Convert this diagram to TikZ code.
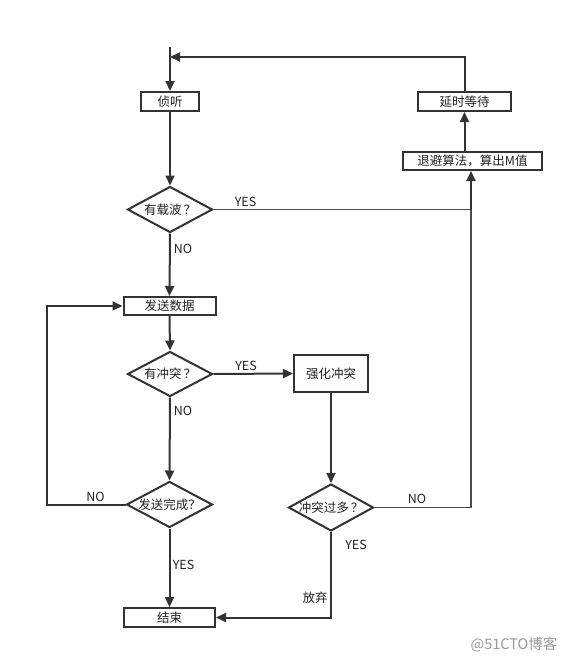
\documentclass[tikz,border=0pt]{standalone}
\usepackage{fontspec}
\setmainfont{Noto Sans CJK SC}
\usetikzlibrary{arrows.meta,shapes.geometric}
\definecolor{lc}{HTML}{333333}
\definecolor{lg}{HTML}{4D4D4D}
\definecolor{tc}{HTML}{222222}
\definecolor{wm}{HTML}{9A9A9A}
\tikzset{
  base/.style={draw=lc, line width=2pt, fill=white, font=\fontsize{12.5}{14}\selectfont, text=tc, inner sep=0pt},
  box/.style={base, rectangle},
  dia/.style={base, diamond, aspect=1.83},
  conn/.style={draw=lc, line width=2pt, -{Triangle[length=10pt,width=9pt]}},
  thin/.style={draw=lg, line width=1.5pt},
  lbl/.style={font=\fontsize{12.5}{14}\selectfont, text=tc, inner sep=0pt}
}
\newcommand{\qm}{\hspace{2pt}？}
\begin{document}
\begin{tikzpicture}[x=1pt,y=-1pt]
\fill[white] (0,0) rectangle (573,659);
\useasboundingbox (0,0) rectangle (573,659);

% nodes
\coordinate (start) at (170,47);
\node[box, minimum width=58pt, minimum height=19pt] (listen) at (170,101.5) {侦听};
\node[box, minimum width=93pt, minimum height=19pt] (delay) at (464.5,101.5) {延时等待};
\node[box, minimum width=139pt, minimum height=18pt] (backoff) at (472.5,161) {退避算法，算出M值};
\node[dia, minimum width=85pt, minimum height=46pt, label={[lbl]center:有载波\qm}] (carrier) at (170,209.5) {};
\node[box, minimum width=92pt, minimum height=18pt] (send) at (169.5,306) {发送数据};
\node[dia, minimum width=85pt, minimum height=45pt, label={[lbl]center:有冲突\qm}] (collide) at (170,374) {};
\node[box, minimum width=74pt, minimum height=37pt] (jam) at (331,373.5) {强化冲突};
\node[dia, minimum width=86pt, minimum height=46pt, label={[lbl]center:发送完成？}] (done) at (169.5,504.5) {};
\node[dia, minimum width=85pt, minimum height=47pt, label={[lbl]center:冲突过多\qm}] (many) at (331,507.5) {};
\node[box, minimum width=91pt, minimum height=19pt] (end) at (169.5,617.5) {结束};

% helper coordinates
\coordinate (topR) at (464.5,57);
\coordinate (topL) at (170,57);
\coordinate (joinY) at (471,209.5);
\coordinate (joinN) at (471,507.5);
\coordinate (loopB) at (47,504.5);
\coordinate (loopT) at (47,306);
\coordinate (giveup) at (331,617.5);

% connectors
\draw[conn] (start) -- (listen.north);
\draw[conn] (delay.north) -- (topR) -- (topL);
\draw[conn] (listen.south) -- (carrier.north);
\draw[thin] (carrier.east) -- (joinY);
\draw[thin] (many.east) -- (joinN) -- (joinY);
\draw[conn] (joinY) -- (backoff.south -| joinY);
\draw[conn] (backoff.north -| delay.south) -- (delay.south);
\draw[conn] (carrier.south) -- (send.north);
\draw[conn] (send.south) -- (collide.north);
\draw[conn] (collide.east) -- (jam.west);
\draw[conn] (collide.south) -- (done.north);
\draw[conn] (done.west) -- (loopB) -- (loopT) -- (send.west);
\draw[conn] (done.south) -- (end.north);
\draw[conn] (jam.south) -- (many.north);
\draw[conn] (many.south) -- (giveup) -- (end.east);

% labels
\node[lbl] (l1) at (245.5,201.5) {YES};
\node[lbl] (l2) at (183,249) {NO};
\node[lbl] (l3) at (246,365.5) {YES};
\node[lbl] (l4) at (183,411) {NO};
\node[lbl] (l5) at (95.5,497) {NO};
\node[lbl] (l6) at (183.5,565) {YES};
\node[lbl] (l7) at (417,498.5) {NO};
\node[lbl] (l8) at (356,545) {YES};
\node[lbl] (l9) at (315,598) {放弃};
\node[font=\fontsize{14.5}{16}\selectfont, text=wm, inner sep=0pt] (wmark) at (514,645) {@51CTO博客};
\end{tikzpicture}
\end{document}
